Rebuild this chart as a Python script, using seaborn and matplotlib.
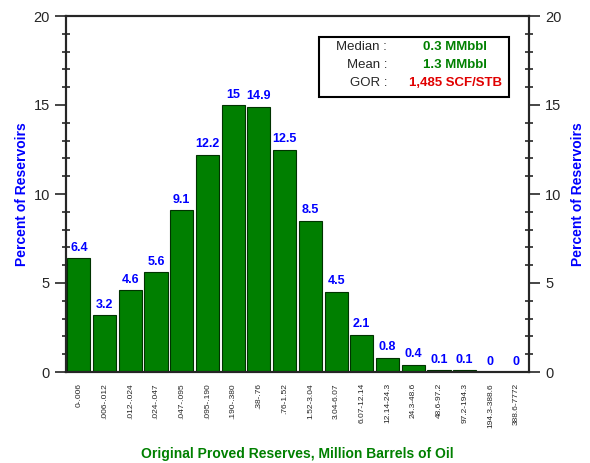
import matplotlib
matplotlib.use("Agg")
import matplotlib.pyplot as plt
import seaborn as sns
import pandas as pd
from matplotlib.ticker import MultipleLocator

sns.set_style("ticks")
plt.rcParams["font.family"] = ["Liberation Sans", "DejaVu Sans"]

size_bins = ["0-.006", ".006-.012", ".012-.024", ".024-.047", ".047-.095",
             ".095-.190", ".190-.380", ".38-.76", ".76-1.52", "1.52-3.04",
             "3.04-6.07", "6.07-12.14", "12.14-24.3", "24.3-48.6", "48.6-97.2",
             "97.2-194.3", "194.3-388.6", "388.6-7772"]
percent = [6.4, 3.2, 4.6, 5.6, 9.1, 12.2, 15, 14.9, 12.5, 8.5,
           4.5, 2.1, 0.8, 0.4, 0.1, 0.1, 0, 0]
bar_labels = ["6.4", "3.2", "4.6", "5.6", "9.1", "12.2", "15", "14.9", "12.5",
              "8.5", "4.5", "2.1", "0.8", "0.4", "0.1", "0.1", "0", "0"]

df = pd.DataFrame({"bin": size_bins, "pct": percent})

fig = plt.figure(figsize=(5.9, 4.63), dpi=100)
ax = fig.add_axes([66 / 590, 1 - 372 / 463, (529 - 66) / 590, (372 - 16) / 463])

sns.barplot(data=df, x="bin", y="pct", color="#007f00", saturation=1,
            width=0.9, edgecolor="#003300", linewidth=0.8, ax=ax)
ax.set_xlim(-0.5, len(size_bins) - 0.5)
ax.set_ylim(0, 20)

for i, (v, t) in enumerate(zip(percent, bar_labels)):
    ax.text(i, v + 0.25, t, ha="center", va="bottom", color="#0000ff",
            fontsize=9, fontweight="bold")

ax.set_xticks(range(len(size_bins)))
ax.set_xticklabels(size_bins, rotation=90, fontsize=6)
ax.tick_params(axis="x", length=0, pad=8)
ax.yaxis.set_major_locator(MultipleLocator(5))
ax.yaxis.set_minor_locator(MultipleLocator(1))
ax.tick_params(axis="y", which="major", length=8, width=1.2, labelsize=10.5, direction="out")
ax.tick_params(axis="y", which="minor", length=6, width=1.2, direction="inout")
ax.set_xlabel("Original Proved Reserves, Million Barrels of Oil", color="#008000",
              fontsize=10, fontweight="bold", labelpad=14)
ax.set_ylabel("Percent of Reservoirs", color="#0000ff", fontsize=10,
              fontweight="bold", labelpad=3)
for s in ax.spines.values():
    s.set_linewidth(1.5)
    s.set_color("black")

ax2 = ax.twinx()
ax2.set_ylim(0, 20)
ax2.yaxis.set_major_locator(MultipleLocator(5))
ax2.yaxis.set_minor_locator(MultipleLocator(1))
ax2.tick_params(axis="y", which="major", length=8, width=1.2, labelsize=10.5, direction="out")
ax2.tick_params(axis="y", which="minor", length=6, width=1.2, direction="inout")
ax2.set_ylabel("Percent of Reservoirs", color="#0000ff", fontsize=10,
               fontweight="bold", labelpad=7)
for s in ax2.spines.values():
    s.set_linewidth(1.5)

# stats box
box = plt.Rectangle((319 / 590, 1 - 97 / 463), (509 - 319) / 590, (97 - 37) / 463,
                    transform=fig.transFigure, facecolor="white", edgecolor="black",
                    linewidth=1.5, zorder=5)
fig.patches.append(box)
rows = [("Median :", "0.3 MMbbl", "#008000"),
        ("Mean :", "1.3 MMbbl", "#008000"),
        ("GOR :", "1,485 SCF/STB", "#e00000")]
for k, (lab, val, col) in enumerate(rows):
    y = 1 - (47 + k * 18) / 463
    fig.text(387 / 590, y, lab, ha="right", va="center", fontsize=9.5, zorder=6)
    fig.text(455 / 590, y, val, ha="center", va="center", fontsize=9.5,
             fontweight="bold", color=col, zorder=6)

fig.savefig("out.png", dpi=100)
